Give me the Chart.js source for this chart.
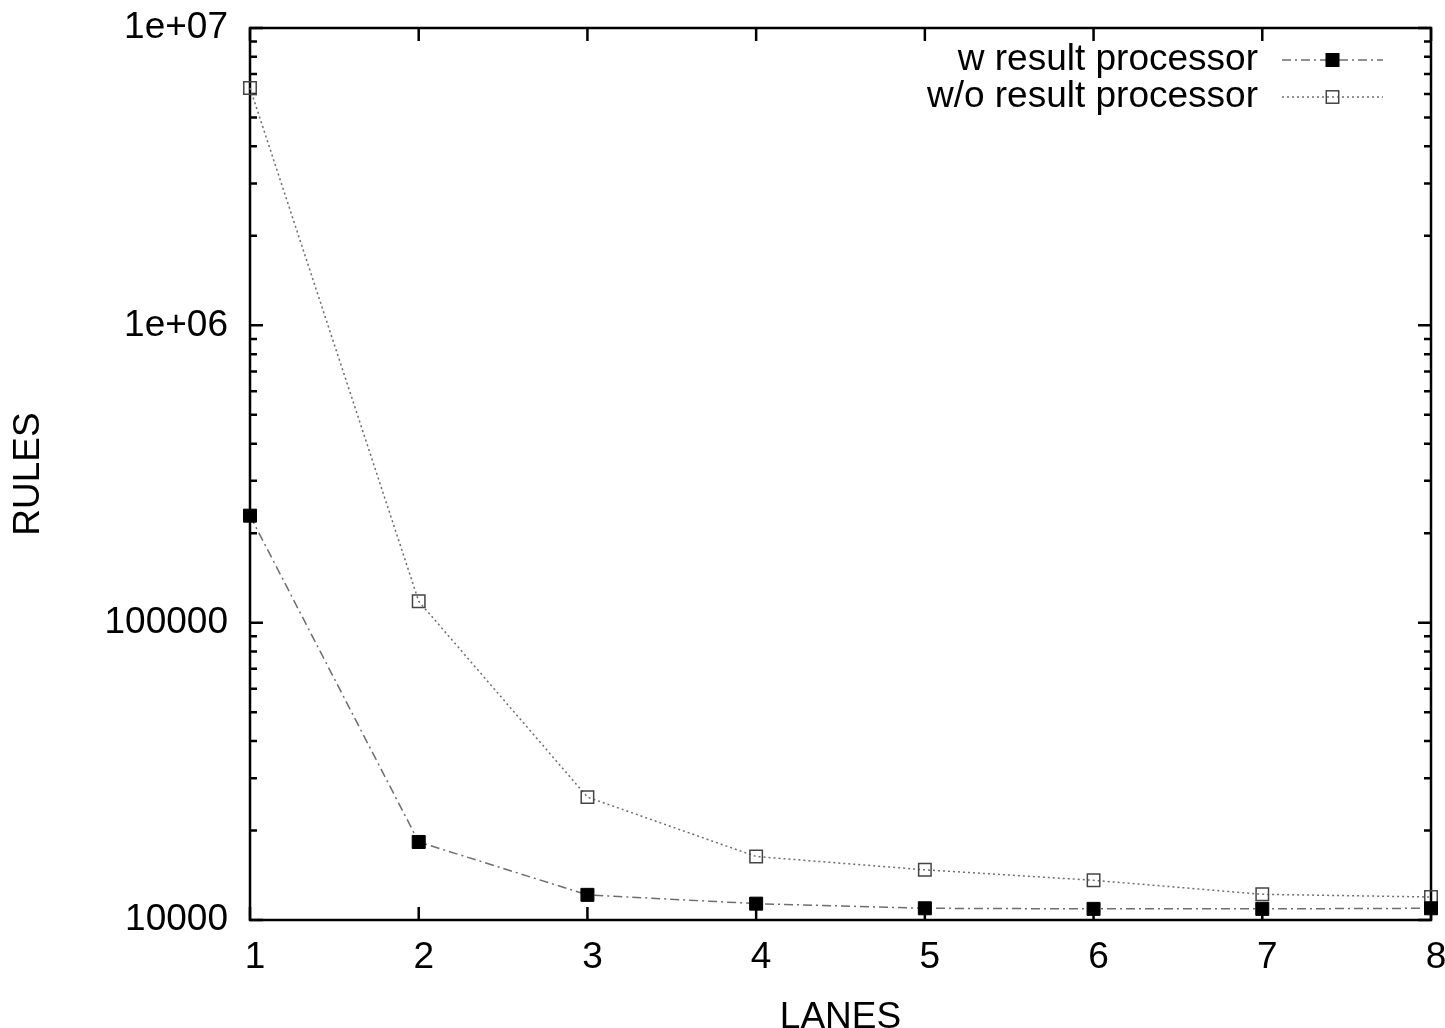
<!DOCTYPE html>
<html lang="en">
<head>
    <meta charset="UTF-8">
    <title>Rules vs lanes</title>
    <script src="https://cdn.jsdelivr.net/npm/chart.js"></script>
    <style>
        body {
            margin: 0;
            padding: 0;
            background-color: #fff;
        }
        #chart {
            display: block;
        }
    </style>
</head>
<body>
    <canvas id="chart" width="1445" height="1028"></canvas>

    <script>
        // values
        const lanes = [1, 2, 3, 4, 5, 6, 7, 8];
        const withProcessor = [229000, 18300, 12150, 11350, 10950, 10900, 10900, 10950];
        const withoutProcessor = [6280000, 118000, 25900, 16350, 14750, 13600, 12200, 11950];

        const yTickValues = [10000, 100000, 1000000, 10000000];
        const yTickLabels = ['10000', '100000', '1e+06', '1e+07'];

        const FONT = "'Liberation Sans', Arial, sans-serif";

        // gnuplot style frame with inward ticks on all four sides
        const framePlugin = {
            id: 'frame',
            beforeDatasetsDraw(chart) {
                const { ctx, chartArea: a, scales } = chart;
                ctx.save();
                ctx.strokeStyle = '#000';
                ctx.lineWidth = 2.5;

                const major = 13;
                const minor = 7;

                ctx.beginPath();
                lanes.forEach(v => {
                    const x = scales.x.getPixelForValue(v);
                    ctx.moveTo(x, a.bottom);
                    ctx.lineTo(x, a.bottom - major);
                    ctx.moveTo(x, a.top);
                    ctx.lineTo(x, a.top + major);
                });

                yTickValues.forEach((v, i) => {
                    const y = scales.y.getPixelForValue(v);
                    ctx.moveTo(a.left, y);
                    ctx.lineTo(a.left + major, y);
                    ctx.moveTo(a.right, y);
                    ctx.lineTo(a.right - major, y);
                    if (i < yTickValues.length - 1) {
                        for (let k = 2; k <= 9; k++) {
                            const ym = scales.y.getPixelForValue(v * k);
                            ctx.moveTo(a.left, ym);
                            ctx.lineTo(a.left + minor, ym);
                            ctx.moveTo(a.right, ym);
                            ctx.lineTo(a.right - minor, ym);
                        }
                    }
                });
                ctx.stroke();

                ctx.strokeRect(a.left, a.top, a.right - a.left, a.bottom - a.top);
                ctx.restore();
            }
        };

        // legend: right aligned text, then line sample with the marker in the middle
        const keyPlugin = {
            id: 'key',
            afterDatasetsDraw(chart) {
                const { ctx, chartArea: a } = chart;
                const textRight = a.right - 173;
                const sampleLeft = a.right - 149;
                const sampleRight = a.right - 48;
                const rows = [a.top + 32, a.top + 69];

                ctx.save();
                ctx.font = '37px ' + FONT;
                ctx.textAlign = 'right';
                ctx.textBaseline = 'middle';
                chart.data.datasets.forEach((ds, i) => {
                    const y = rows[i];
                    ctx.fillStyle = '#000';
                    ctx.fillText(ds.label, textRight, y);

                    ctx.strokeStyle = ds.borderColor;
                    ctx.lineWidth = ds.borderWidth;
                    ctx.setLineDash(ds.borderDash);
                    ctx.beginPath();
                    ctx.moveTo(sampleLeft, y);
                    ctx.lineTo(sampleRight, y);
                    ctx.stroke();
                    ctx.setLineDash([]);

                    const cx = (sampleLeft + sampleRight) / 2;
                    const s = ds.pointRadius * Math.SQRT1_2;
                    if (ds.pointBackgroundColor !== 'transparent') {
                        ctx.fillStyle = ds.pointBackgroundColor;
                        ctx.fillRect(cx - s, y - s, 2 * s, 2 * s);
                    }
                    ctx.strokeStyle = ds.pointBorderColor;
                    ctx.lineWidth = ds.pointBorderWidth;
                    ctx.strokeRect(cx - s, y - s, 2 * s, 2 * s);
                });
                ctx.restore();
            }
        };

        const ctx = document.getElementById('chart').getContext('2d');
        new Chart(ctx, {
            type: 'line',
            data: {
                datasets: [
                    {
                        label: 'w result processor',
                        data: lanes.map((l, i) => ({ x: l, y: withProcessor[i] })),
                        borderColor: '#6e6e6e',
                        borderWidth: 1.5,
                        borderDash: [9, 4, 2, 4],
                        pointStyle: 'rect',
                        pointRadius: 9.2,
                        pointBackgroundColor: '#000',
                        pointBorderColor: '#000',
                        pointBorderWidth: 1,
                        tension: 0,
                        clip: false
                    },
                    {
                        label: 'w/o result processor',
                        data: lanes.map((l, i) => ({ x: l, y: withoutProcessor[i] })),
                        borderColor: '#6e6e6e',
                        borderWidth: 1.5,
                        borderDash: [2, 3],
                        pointStyle: 'rect',
                        pointRadius: 8.8,
                        pointBackgroundColor: 'transparent',
                        pointBorderColor: '#444',
                        pointBorderWidth: 1.5,
                        tension: 0,
                        clip: false
                    }
                ]
            },
            options: {
                responsive: false,
                animation: false,
                layout: {
                    padding: { top: 28, right: 14, bottom: 0, left: 0 }
                },
                plugins: {
                    legend: { display: false },
                    tooltip: { enabled: false }
                },
                scales: {
                    x: {
                        type: 'linear',
                        min: 1,
                        max: 8,
                        grid: { display: false, drawTicks: false },
                        border: { display: false },
                        afterFit(scale) {
                            scale.height = 108;
                            scale.paddingLeft = 0;
                            scale.paddingRight = 0;
                        },
                        ticks: {
                            stepSize: 1,
                            padding: 16,
                            labelOffset: 5,
                            color: '#000',
                            font: { family: FONT, size: 37 }
                        },
                        title: {
                            display: true,
                            text: 'LANES',
                            color: '#000',
                            font: { family: FONT, size: 37, lineHeight: 1 },
                            padding: { top: 0, bottom: -8 }
                        }
                    },
                    y: {
                        type: 'logarithmic',
                        min: 10000,
                        max: 10000000,
                        grid: { display: false, drawTicks: false },
                        border: { display: false },
                        afterFit(scale) {
                            scale.width = 250;
                            scale.paddingTop = 0;
                            scale.paddingBottom = 0;
                        },
                        afterBuildTicks(scale) {
                            scale.ticks = yTickValues.map(v => ({ value: v }));
                        },
                        ticks: {
                            padding: 22,
                            color: '#000',
                            font: { family: FONT, size: 37 },
                            callback: (value) => {
                                const i = yTickValues.indexOf(value);
                                return i >= 0 ? yTickLabels[i] : '';
                            }
                        },
                        title: {
                            display: true,
                            text: 'RULES',
                            color: '#000',
                            font: { family: FONT, size: 37, lineHeight: 1 },
                            padding: { top: 10, bottom: 0 }
                        }
                    }
                }
            },
            plugins: [framePlugin, keyPlugin]
        });
    </script>
</body>
</html>
